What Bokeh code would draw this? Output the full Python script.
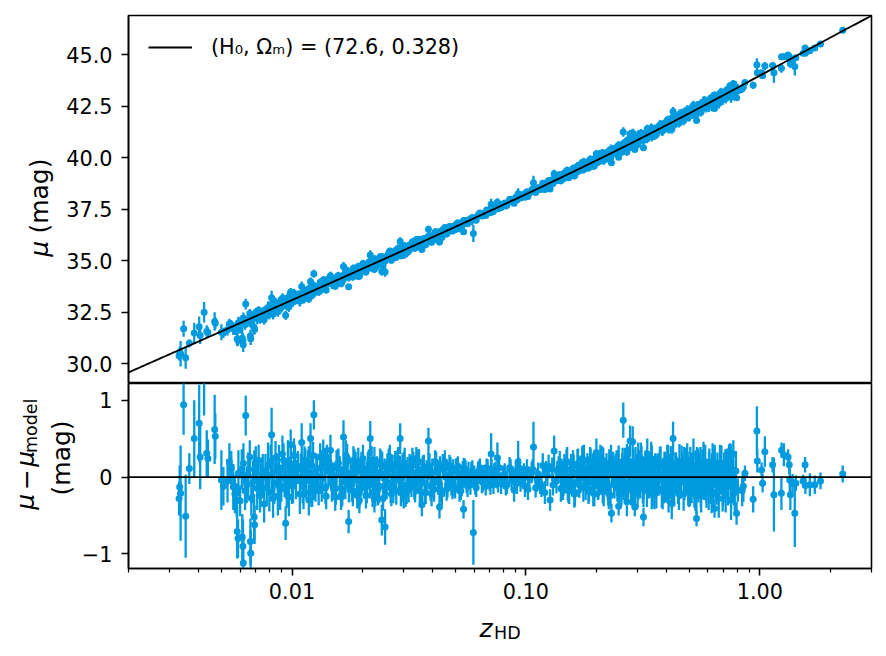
import numpy as np
from math import pi
from bokeh.plotting import figure
from bokeh.layouts import column, row
from bokeh.models import (Range1d, FixedTicker, PrintfTickFormatter, Span, Label,
                          Legend, LegendItem, ColumnDataSource)
from bokeh.embed import file_html
from bokeh.resources import INLINE

# ---------------- cosmology of the model line ----------------
H0 = 72.6
OMEGA_M = 0.328
C_KMS = 299792.458

# ---------------- data ----------------
# lowest redshifts, individual points
z_lo = [0.00331, 0.00334, 0.00329, 0.00344, 0.00351, 0.00364, 0.00382, 0.00401, 0.00405, 0.00421,
        0.00432, 0.00437, 0.00467, 0.00470, 0.00499, 0.00509, 0.00561, 0.00583, 0.00588, 0.00613,
        0.00617, 0.00619, 0.00634, 0.00666, 0.00664, 0.00689, 0.00692, 0.00735, 0.00818, 0.00939,
        0.00987]
res_lo = [-0.13, -0.21, -0.28, 0.94, -0.51, 0.11, 0.50, 0.70, 0.26, 1.30,
          0.31, 0.24, 0.62, 0.53, -0.04, -0.12, -0.13, -0.71, -0.80, -0.78,
          -0.90, -1.12, 0.80, -0.99, -0.84, -0.52, -0.62, -0.08, 0.55, -0.60,
          0.42]
err_lo = [0.28, 0.62, 0.22, 0.39, 0.54, 0.20, 0.50, 0.50, 0.42, 0.50,
          0.30, 0.25, 0.45, 0.30, 0.39, 0.25, 0.30, 0.35, 0.25, 0.30,
          0.35, 0.35, 0.26, 0.30, 0.30, 0.30, 0.25, 0.25, 0.35, 0.22,
          0.20]

# low redshift crowd
z_lo2 = [0.0053, 0.0055, 0.0057, 0.0059, 0.0060, 0.0062, 0.0064, 0.0065, 0.0067, 0.0069,
         0.0071, 0.0072, 0.0074, 0.0076, 0.0077, 0.0079, 0.0080, 0.0082, 0.0084, 0.0085,
         0.0087, 0.0088, 0.0090, 0.0091, 0.0093, 0.0095, 0.0096, 0.0098, 0.0100, 0.0102,
         0.0104, 0.0106, 0.0108, 0.0110, 0.0112,
         0.0054, 0.0058, 0.0061, 0.0063, 0.0066, 0.0068, 0.0070, 0.0073, 0.0075, 0.0078,
         0.0081, 0.0083, 0.0086, 0.0089, 0.0092, 0.0094, 0.0097, 0.0099, 0.0101, 0.0103]
res_lo2 = [-0.05, 0.12, -0.22, 0.05, -0.31, 0.18, -0.10, 0.02, -0.28, 0.10,
           -0.15, 0.22, -0.02, -0.35, 0.08, 0.15, -0.20, 0.03, -0.08, 0.25,
           -0.25, 0.12, -0.12, 0.30, 0.00, -0.18, 0.20, 0.06, -0.10, 0.28,
           -0.05, 0.14, -0.22, 0.10, 0.02,
           0.20, -0.30, 0.10, -0.18, 0.26, -0.06, 0.16, -0.24, 0.04, -0.14,
           0.20, -0.28, 0.08, -0.16, 0.22, -0.04, -0.26, 0.14, -0.12, 0.18]
err_lo2 = [0.28, 0.22, 0.25, 0.30, 0.20, 0.26, 0.24, 0.30, 0.22, 0.25,
           0.28, 0.20, 0.26, 0.24, 0.22, 0.30, 0.25, 0.20, 0.27, 0.22,
           0.25, 0.30, 0.20, 0.24, 0.26, 0.22, 0.28, 0.20, 0.25, 0.22,
           0.24, 0.20, 0.26, 0.22, 0.20,
           0.24, 0.22, 0.26, 0.25, 0.22, 0.28, 0.24, 0.22, 0.26, 0.24,
           0.22, 0.25, 0.23, 0.27, 0.22, 0.24, 0.25, 0.23, 0.22, 0.24]

# 0.01 < z < 0.08
z_mid = [0.0109, 0.0111, 0.0113, 0.0115, 0.0117, 0.0119, 0.0121, 0.0123, 0.0126, 0.0128,
         0.0130, 0.0133, 0.0135, 0.0138, 0.0140, 0.0143, 0.0146, 0.0148, 0.0151, 0.0154,
         0.0157, 0.0160, 0.0163, 0.0166, 0.0169, 0.0172, 0.0175, 0.0178, 0.0182, 0.0185,
         0.0189, 0.0192, 0.0196, 0.0199, 0.0203, 0.0207, 0.0211, 0.0215, 0.0219, 0.0223,
         0.0227, 0.0231, 0.0236, 0.0240, 0.0245, 0.0249, 0.0254, 0.0259, 0.0264, 0.0269,
         0.0274, 0.0279, 0.0284, 0.0290, 0.0295, 0.0301, 0.0306, 0.0312, 0.0318, 0.0324,
         0.0330, 0.0336, 0.0343, 0.0349, 0.0356, 0.0362, 0.0369, 0.0376, 0.0383, 0.0391,
         0.0398, 0.0405, 0.0413, 0.0421, 0.0429, 0.0437, 0.0445, 0.0454, 0.0462, 0.0471,
         0.0480, 0.0489, 0.0498, 0.0508, 0.0517, 0.0527, 0.0537, 0.0547, 0.0558, 0.0568,
         0.0579, 0.0590, 0.0601, 0.0613, 0.0624, 0.0636, 0.0648, 0.0661, 0.0673, 0.0686,
         0.0699, 0.0712, 0.0726, 0.0740, 0.0754, 0.0768, 0.0783, 0.0798]
res_mid = [0.10, -0.12, 0.22, -0.05, 0.15, -0.20, 0.05, 0.28, -0.10, 0.02,
           -0.18, 0.12, -0.02, 0.20, -0.25, 0.08, 0.15, -0.08, 0.00, -0.15,
           0.18, 0.05, -0.22, 0.10, -0.06, 0.25, -0.12, 0.03, -0.18, 0.14,
           -0.04, 0.20, -0.16, 0.08, 0.02, -0.24, 0.12, -0.08, 0.22, -0.02,
           -0.20, 0.06, -0.12, 0.16, -0.28, 0.04, -0.06, 0.18, -0.14, 0.10,
           0.00, -0.18, 0.22, 0.08, -0.10, 0.14, -0.22, 0.05, 0.12, -0.06,
           0.16, -0.14, 0.04, 0.20, -0.08, 0.10, -0.20, 0.02, 0.14, -0.12,
           0.06, -0.16, 0.18, -0.04, 0.10, -0.22, 0.12, 0.00, -0.10, 0.15,
           -0.08, 0.08, -0.14, 0.12, 0.02, -0.18, 0.06, 0.10, -0.06, 0.04,
           -0.10, 0.08, 0.00, -0.14, 0.06, 0.12, -0.06, 0.03, -0.12, 0.09,
           -0.04, 0.10, -0.10, 0.05, -0.02, 0.12, -0.08, 0.02]
err_mid = [0.20, 0.22, 0.18, 0.24, 0.20, 0.19, 0.25, 0.18, 0.22, 0.21,
           0.19, 0.23, 0.20, 0.18, 0.17, 0.22, 0.20, 0.24, 0.19, 0.21,
           0.18, 0.22, 0.17, 0.20, 0.23, 0.18, 0.21, 0.19, 0.20, 0.22,
           0.21, 0.18, 0.20, 0.22, 0.19, 0.17, 0.21, 0.20, 0.18, 0.23,
           0.18, 0.21, 0.22, 0.19, 0.16, 0.20, 0.23, 0.18, 0.20, 0.19,
           0.21, 0.18, 0.17, 0.20, 0.22, 0.19, 0.17, 0.21, 0.18, 0.20,
           0.17, 0.19, 0.21, 0.16, 0.20, 0.18, 0.16, 0.20, 0.17, 0.19,
           0.18, 0.16, 0.15, 0.19, 0.17, 0.15, 0.16, 0.18, 0.17, 0.14,
           0.16, 0.15, 0.14, 0.13, 0.16, 0.12, 0.15, 0.14, 0.15, 0.16,
           0.13, 0.14, 0.15, 0.12, 0.14, 0.12, 0.15, 0.13, 0.12, 0.14,
           0.14, 0.13, 0.12, 0.15, 0.13, 0.12, 0.14, 0.13]

z_mid2 = [0.0112, 0.0118, 0.0124, 0.0132, 0.0139, 0.0147, 0.0155, 0.0162, 0.0171, 0.0180,
          0.0187, 0.0194, 0.0201, 0.0209, 0.0217, 0.0225, 0.0233, 0.0243, 0.0251, 0.0261,
          0.0271, 0.0282, 0.0292, 0.0303, 0.0315, 0.0327, 0.0339, 0.0352, 0.0366, 0.0380,
          0.0394, 0.0409, 0.0425, 0.0441, 0.0458, 0.0476, 0.0494, 0.0512, 0.0532, 0.0552,
          0.0124, 0.0120, 0.0166, 0.01746, 0.0216, 0.0242, 0.0250, 0.0290, 0.0359, 0.0383,
          0.0427, 0.0541, 0.0596, 0.0710, 0.0755, 0.0110, 0.0146]
res_mid2 = [-0.22, 0.18, -0.06, 0.26, -0.14, 0.02, 0.12, -0.26, 0.20, -0.10,
            0.14, -0.20, 0.24, -0.12, 0.06, 0.22, -0.16, 0.14, -0.04, 0.20,
            -0.14, 0.16, -0.20, 0.18, -0.16, 0.22, -0.04, -0.18, 0.12, 0.06,
            -0.12, 0.20, -0.06, 0.14, -0.16, 0.10, -0.12, 0.14, -0.10, 0.08,
            0.81, 0.50, 0.52, -0.58, 0.50, -0.56, -0.65, 0.50, -0.36, 0.47,
            -0.39, -0.42, -0.72, 0.30, 0.25, 0.45, 0.35]
err_mid2 = [0.20, 0.22, 0.24, 0.18, 0.21, 0.20, 0.23, 0.17, 0.20, 0.22,
            0.19, 0.20, 0.18, 0.22, 0.20, 0.17, 0.21, 0.19, 0.22, 0.18,
            0.20, 0.19, 0.18, 0.20, 0.17, 0.16, 0.19, 0.18, 0.17, 0.16,
            0.18, 0.15, 0.17, 0.16, 0.15, 0.16, 0.14, 0.13, 0.15, 0.14,
            0.19, 0.20, 0.22, 0.15, 0.23, 0.20, 0.23, 0.20, 0.15, 0.17,
            0.15, 0.12, 0.42, 0.27, 0.20, 0.25, 0.20]

z_mid3 = [0.0114, 0.0122, 0.0127, 0.0134, 0.0141, 0.0150, 0.0158, 0.0164, 0.0173, 0.0183,
          0.0190, 0.0198, 0.0205, 0.0213, 0.0221, 0.0229, 0.0238, 0.0247, 0.0256, 0.0266,
          0.0276, 0.0287, 0.0297, 0.0309, 0.0321, 0.0333, 0.0346, 0.0359, 0.0373, 0.0387,
          0.0402, 0.0417, 0.0433, 0.0450, 0.0467, 0.0485, 0.0503, 0.0522, 0.0542, 0.0563,
          0.0584, 0.0607, 0.0630, 0.0654, 0.0679, 0.0705, 0.0732, 0.0760, 0.0118, 0.0136,
          0.0153, 0.0170, 0.0194, 0.0225, 0.0262, 0.0300, 0.0340, 0.0395, 0.0450, 0.0520]
res_mid3 = [0.16, -0.20, 0.08, -0.12, 0.24, -0.06, 0.18, -0.16, 0.04, 0.22,
            -0.24, 0.12, -0.08, 0.18, -0.20, 0.02, 0.20, -0.12, 0.10, -0.22,
            0.16, -0.04, 0.12, -0.18, 0.08, -0.10, 0.20, 0.04, -0.20, 0.14,
            -0.08, 0.06, -0.18, 0.12, 0.02, -0.14, 0.10, -0.06, 0.12, -0.12,
            0.06, -0.10, 0.08, -0.04, 0.12, -0.10, 0.04, -0.08, -0.30, 0.30,
            -0.26, 0.28, -0.30, -0.28, 0.26, -0.24, 0.24, -0.22, 0.20, -0.18]
err_mid3 = [0.21, 0.19, 0.23, 0.20, 0.18, 0.22, 0.19, 0.21, 0.24, 0.18,
            0.17, 0.21, 0.20, 0.18, 0.19, 0.23, 0.17, 0.20, 0.21, 0.16,
            0.18, 0.20, 0.19, 0.17, 0.20, 0.19, 0.16, 0.18, 0.15, 0.17,
            0.18, 0.17, 0.15, 0.16, 0.17, 0.15, 0.14, 0.15, 0.13, 0.14,
            0.14, 0.13, 0.14, 0.15, 0.12, 0.13, 0.14, 0.12, 0.20, 0.19,
            0.18, 0.20, 0.17, 0.18, 0.16, 0.17, 0.15, 0.16, 0.15, 0.14]

# 0.08 < z < 0.14
z_gap = [0.0812, 0.0830, 0.0851, 0.0868, 0.0890, 0.0905, 0.0926, 0.0948, 0.0967, 0.0990,
         0.1010, 0.1035, 0.1058, 0.1077, 0.1100, 0.1128, 0.1150, 0.1180, 0.1205, 0.1235,
         0.1268, 0.1295, 0.1320, 0.1350, 0.1380, 0.1410,
         0.0820, 0.0860, 0.0880, 0.0915, 0.0937, 0.0980, 0.1020, 0.1068, 0.1115, 0.1165,
         0.1220, 0.1250, 0.1305, 0.1365, 0.1395]
res_gap = [0.05, -0.10, 0.12, -0.04, -0.17, 0.08, 0.20, -0.06, 0.02, -0.12,
           0.10, -0.02, 0.06, 0.39, -0.14, 0.04, -0.08, 0.15, -0.20, 0.02,
           -0.30, 0.10, 0.34, -0.05, 0.12, -0.15,
           -0.12, 0.10, 0.02, -0.08, 0.12, 0.06, -0.16, 0.10, -0.04, -0.12,
           0.08, 0.14, -0.10, 0.06, 0.18]
err_gap = [0.13, 0.12, 0.14, 0.13, 0.15, 0.12, 0.27, 0.13, 0.12, 0.14,
           0.13, 0.12, 0.14, 0.33, 0.13, 0.15, 0.14, 0.16, 0.15, 0.14,
           0.14, 0.15, 0.20, 0.16, 0.15, 0.17,
           0.12, 0.13, 0.12, 0.14, 0.13, 0.12, 0.14, 0.13, 0.15, 0.14,
           0.13, 0.15, 0.14, 0.15, 0.16]

# 0.14 < z < 0.8
z_hi = [0.142, 0.144, 0.146, 0.148, 0.150, 0.152, 0.154, 0.156, 0.158, 0.160,
        0.162, 0.165, 0.167, 0.169, 0.171, 0.174, 0.176, 0.178, 0.181, 0.183,
        0.186, 0.188, 0.191, 0.193, 0.196, 0.199, 0.201, 0.204, 0.207, 0.209,
        0.212, 0.215, 0.218, 0.221, 0.224, 0.227, 0.230, 0.233, 0.236, 0.239,
        0.242, 0.246, 0.249, 0.252, 0.256, 0.259, 0.263, 0.266, 0.270, 0.273,
        0.277, 0.281, 0.284, 0.288, 0.292, 0.296, 0.300, 0.304, 0.308, 0.312,
        0.316, 0.320, 0.325, 0.329, 0.334, 0.338, 0.343, 0.347, 0.352, 0.357,
        0.361, 0.366, 0.371, 0.376, 0.381, 0.386, 0.391, 0.397, 0.402, 0.407,
        0.413, 0.418, 0.424, 0.430, 0.435, 0.441, 0.447, 0.453, 0.459, 0.465,
        0.472, 0.478, 0.484, 0.491, 0.497, 0.504, 0.511, 0.518, 0.525, 0.532,
        0.539, 0.546, 0.553, 0.561, 0.568, 0.576, 0.584, 0.591, 0.599, 0.608,
        0.616, 0.624, 0.632, 0.641, 0.650, 0.658, 0.667, 0.676, 0.685, 0.695,
        0.704, 0.714, 0.723, 0.733, 0.743, 0.753, 0.763, 0.774]
res_hi = [0.08, -0.12, 0.15, -0.04, 0.20, -0.18, 0.02, 0.10, -0.08, 0.14,
          -0.20, 0.05, 0.18, -0.10, 0.00, 0.24, -0.14, 0.06, -0.02, 0.12,
          -0.16, 0.20, -0.06, 0.10, -0.22, 0.04, 0.16, -0.12, 0.08, -0.04,
          0.22, -0.18, 0.02, 0.12, -0.10, 0.18, -0.24, 0.06, 0.14, -0.06,
          0.10, -0.14, 0.20, -0.02, -0.20, 0.16, 0.04, -0.12, 0.22, -0.08,
          0.12, -0.16, 0.02, 0.18, -0.10, 0.08, -0.22, 0.14, -0.04, 0.20,
          -0.12, 0.06, 0.16, -0.18, 0.10, -0.06, 0.24, -0.14, 0.02, 0.12,
          -0.20, 0.08, -0.04, 0.18, -0.16, 0.04, 0.14, -0.10, 0.22, -0.24,
          0.06, -0.08, 0.16, -0.18, 0.10, 0.00, -0.14, 0.20, -0.06, 0.12,
          -0.22, 0.14, -0.02, 0.08, -0.16, 0.18, -0.10, 0.04, -0.20, 0.10,
          0.16, -0.12, 0.06, -0.24, 0.12, -0.04, 0.20, -0.16, 0.02, 0.14,
          -0.10, 0.08, -0.20, 0.16, -0.06, 0.10, -0.28, 0.04, 0.18, -0.14,
          0.06, -0.22, 0.12, -0.08, 0.20, -0.30, 0.02, -0.12]
err_hi = [0.16, 0.18, 0.15, 0.17, 0.19, 0.16, 0.18, 0.20, 0.17, 0.15,
          0.18, 0.16, 0.19, 0.17, 0.21, 0.16, 0.18, 0.20, 0.17, 0.19,
          0.17, 0.19, 0.18, 0.21, 0.16, 0.20, 0.18, 0.17, 0.22, 0.19,
          0.18, 0.20, 0.17, 0.19, 0.21, 0.18, 0.16, 0.20, 0.19, 0.22,
          0.20, 0.18, 0.21, 0.19, 0.17, 0.22, 0.20, 0.18, 0.21, 0.19,
          0.19, 0.21, 0.23, 0.18, 0.20, 0.22, 0.19, 0.21, 0.24, 0.20,
          0.22, 0.20, 0.19, 0.21, 0.23, 0.20, 0.22, 0.24, 0.21, 0.19,
          0.21, 0.23, 0.20, 0.22, 0.24, 0.21, 0.19, 0.23, 0.20, 0.22,
          0.24, 0.21, 0.23, 0.20, 0.22, 0.25, 0.21, 0.23, 0.22, 0.20,
          0.22, 0.24, 0.21, 0.25, 0.23, 0.21, 0.24, 0.22, 0.20, 0.25,
          0.23, 0.21, 0.25, 0.22, 0.24, 0.26, 0.22, 0.24, 0.21, 0.23,
          0.25, 0.23, 0.22, 0.26, 0.24, 0.22, 0.25, 0.27, 0.23, 0.24,
          0.26, 0.24, 0.25, 0.27, 0.23, 0.26, 0.28, 0.25]

z_hi2 = [0.151, 0.159, 0.168, 0.177, 0.185, 0.195, 0.205, 0.214, 0.226, 0.237,
         0.248, 0.261, 0.275, 0.290, 0.302, 0.318, 0.331, 0.345, 0.359, 0.374,
         0.389, 0.405, 0.421, 0.438, 0.456, 0.475, 0.494, 0.515, 0.535, 0.557,
         0.580, 0.604, 0.628, 0.654, 0.680, 0.709, 0.738,
         0.2606, 0.2787, 0.286, 0.4255, 0.292, 0.318, 0.536, 0.640, 0.795, 0.232,
         0.249, 0.745, 0.770, 0.805]
res_hi2 = [-0.14, 0.16, -0.08, 0.22, -0.18, 0.10, -0.04, 0.20, -0.22, 0.08,
           0.14, -0.10, 0.18, -0.16, 0.24, -0.06, 0.12, -0.20, 0.06, 0.16,
           -0.12, 0.22, -0.18, 0.10, -0.04, 0.18, -0.14, 0.08, -0.24, 0.14,
           0.04, -0.18, 0.20, -0.10, 0.12, -0.06, 0.16,
           0.74, 0.47, 0.46, 0.50, -0.39, -0.52, -0.54, -0.41, -0.47, -0.47,
           -0.38, 0.29, 0.30, -0.17]
err_hi2 = [0.17, 0.19, 0.18, 0.20, 0.17, 0.19, 0.21, 0.18, 0.20, 0.19,
           0.21, 0.20, 0.22, 0.19, 0.21, 0.23, 0.20, 0.22, 0.21, 0.23,
           0.22, 0.20, 0.23, 0.22, 0.24, 0.21, 0.23, 0.22, 0.24, 0.25,
           0.23, 0.25, 0.24, 0.26, 0.25, 0.27, 0.26,
           0.23, 0.20, 0.20, 0.22, 0.12, 0.12, 0.10, 0.12, 0.15, 0.12,
           0.12, 0.15, 0.18, 0.15]

z_hi3 = [0.145, 0.149, 0.153, 0.157, 0.161, 0.166, 0.170, 0.175, 0.180, 0.184,
         0.189, 0.194, 0.198, 0.203, 0.208, 0.213, 0.219, 0.225, 0.231, 0.238,
         0.244, 0.251, 0.258, 0.265, 0.272, 0.279, 0.287, 0.294, 0.302, 0.310,
         0.318, 0.327, 0.336, 0.345, 0.354, 0.364, 0.374, 0.384, 0.394, 0.405,
         0.416, 0.427, 0.439, 0.451, 0.463, 0.476, 0.489, 0.502, 0.516, 0.530,
         0.544, 0.559, 0.574, 0.590, 0.606, 0.622, 0.639, 0.657, 0.675, 0.693,
         0.712, 0.731, 0.751, 0.781, 0.790, 0.200, 0.270, 0.330, 0.420, 0.520]
res_hi3 = [-0.06, 0.20, -0.16, 0.10, -0.22, 0.16, -0.02, 0.22, -0.12, 0.06,
           0.18, -0.20, 0.12, -0.08, 0.24, -0.14, 0.04, -0.18, 0.20, -0.06,
           0.14, -0.22, 0.08, 0.18, -0.12, 0.02, -0.20, 0.16, -0.08, 0.24,
           -0.16, 0.10, -0.04, 0.20, -0.22, 0.06, 0.14, -0.18, 0.12, -0.10,
           0.18, -0.14, 0.04, -0.22, 0.16, -0.06, 0.22, -0.12, 0.08, -0.20,
           0.12, -0.16, 0.20, -0.08, 0.06, -0.24, 0.14, -0.04, 0.18, -0.18,
           0.10, -0.12, 0.16, -0.20, 0.08, 0.32, -0.32, 0.30, -0.34, 0.28]
err_hi3 = [0.18, 0.16, 0.19, 0.17, 0.18, 0.20, 0.17, 0.19, 0.18, 0.21,
           0.19, 0.18, 0.20, 0.22, 0.18, 0.20, 0.21, 0.19, 0.22, 0.20,
           0.21, 0.19, 0.23, 0.20, 0.22, 0.21, 0.20, 0.23, 0.22, 0.21,
           0.23, 0.22, 0.24, 0.21, 0.20, 0.23, 0.22, 0.24, 0.21, 0.25,
           0.22, 0.24, 0.23, 0.21, 0.25, 0.24, 0.22, 0.26, 0.23, 0.24,
           0.25, 0.23, 0.26, 0.24, 0.27, 0.23, 0.25, 0.26, 0.24, 0.27,
           0.26, 0.25, 0.27, 0.24, 0.26, 0.18, 0.19, 0.20, 0.21, 0.22]

# z > 0.8
z_top = [0.840, 0.850, 0.863, 0.936, 0.971, 0.975, 1.017, 1.027, 1.050, 1.133,
         1.148, 1.236, 1.238, 1.266, 1.320, 1.335, 1.342, 1.350, 1.380, 1.410,
         1.425, 1.530, 1.560, 1.565, 1.635, 1.717, 1.816, 2.260]
res_top = [-0.18, -0.12, 0.05, -0.29, 0.60, 0.21, 0.09, -0.08, 0.33, 0.16,
           -0.23, -0.21, 0.35, 0.29, 0.26, 0.16, -0.04, -0.23, -0.08, -0.47,
           -0.08, -0.05, 0.16, -0.11, -0.10, -0.10, -0.05, 0.04]
err_top = [0.20, 0.20, 0.10, 0.17, 0.32, 0.15, 0.10, 0.12, 0.20, 0.10,
           0.48, 0.22, 0.10, 0.15, 0.10, 0.12, 0.15, 0.20, 0.12, 0.44,
           0.10, 0.08, 0.10, 0.11, 0.15, 0.12, 0.11, 0.11]

groups = [(z_lo, res_lo, err_lo), (z_lo2, res_lo2, err_lo2), (z_mid, res_mid, err_mid),
          (z_mid2, res_mid2, err_mid2), (z_mid3, res_mid3, err_mid3), (z_gap, res_gap, err_gap),
          (z_hi, res_hi, err_hi), (z_hi2, res_hi2, err_hi2), (z_hi3, res_hi3, err_hi3),
          (z_top, res_top, err_top)]
for g in groups:
    if not (len(g[0]) == len(g[1]) == len(g[2])):
        raise ValueError("length mismatch %d %d %d" % (len(g[0]), len(g[1]), len(g[2])))

z_hd = np.array(sum([list(g[0]) for g in groups], []))
resid = np.array(sum([list(g[1]) for g in groups], []))
mu_err = np.array(sum([list(g[2]) for g in groups], []))

XMIN, XMAX = 0.002, 3.0


def mu_model(z):
    z = np.asarray(z, dtype=float)
    zg = np.linspace(0.0, XMAX * 1.05, 40001)
    inv_e = 1.0 / np.sqrt(OMEGA_M * (1 + zg) ** 3 + (1 - OMEGA_M))
    dc = np.concatenate([[0.0], np.cumsum(0.5 * (inv_e[1:] + inv_e[:-1]) * np.diff(zg))])
    d_l = (1 + z) * np.interp(z, zg, dc) * C_KMS / H0
    return 5 * np.log10(d_l) + 25


mu = mu_model(z_hd) + resid
src = ColumnDataSource(dict(z=z_hd, mu=mu, mu_lo=mu - mu_err, mu_hi=mu + mu_err,
                            r=resid, r_lo=resid - mu_err, r_hi=resid + mu_err))
z_line = np.geomspace(XMIN, XMAX, 400)
line_src = ColumnDataSource(dict(z=z_line, mu=mu_model(z_line)))

BLUE = "#009ade"
FONT = "DejaVu Sans"
TICK_PX = "20.8px"
LABEL_PX = "25px"
SUB_PX = "17.5px"

x_range = Range1d(XMIN, XMAX)


def style(p):
    p.grid.visible = False
    p.outline_line_color = "black"
    p.outline_line_width = 1.6
    p.background_fill_color = "white"
    p.border_fill_color = "white"
    for ax in p.axis:
        ax.axis_line_color = "black"
        ax.axis_line_width = 1.6
        ax.major_tick_line_color = "black"
        ax.major_tick_line_width = 1.6
        ax.major_tick_out = 7
        ax.major_tick_in = 0
        ax.minor_tick_line_color = "black"
        ax.minor_tick_line_width = 1.2
        ax.minor_tick_out = 4
        ax.minor_tick_in = 0
        ax.major_label_text_font = FONT
        ax.major_label_text_font_size = TICK_PX
        ax.major_label_text_color = "black"


def blank(w, h):
    f = figure(width=w, height=h, x_range=Range1d(0, w), y_range=Range1d(0, h),
               x_axis_location=None, y_axis_location=None, min_border=0,
               output_backend="svg", toolbar_location=None)
    f.grid.visible = False
    f.outline_line_color = None
    f.background_fill_color = "white"
    f.border_fill_color = "white"
    return f


def txt(f, x, y, text, size=LABEL_PX, style_="normal", angle=0.0, align="left"):
    f.add_layout(Label(x=x, y=y, text=text, angle=angle, text_font=FONT, text_font_size=size,
                       text_font_style=style_, text_align=align, text_baseline="alphabetic",
                       text_color="black"))


# ---------------- top panel ----------------
p1 = figure(width=818, height=383, x_axis_type="log", x_range=x_range,
            y_range=Range1d(29.05, 46.9), x_axis_location=None,
            output_backend="svg", toolbar_location=None,
            min_border_left=68, min_border_right=7, min_border_top=15, min_border_bottom=0)
p1.segment(x0="z", y0="mu_lo", x1="z", y1="mu_hi", source=src, line_color=BLUE, line_width=2.3)
p1.scatter("z", "mu", source=src, size=7, fill_color=BLUE, line_color=None)
model_r = p1.line("z", "mu", source=line_src, line_color="black", line_width=1.8)
style(p1)
p1.yaxis.ticker = FixedTicker(ticks=[30, 32.5, 35, 37.5, 40, 42.5, 45])
p1.yaxis.formatter = PrintfTickFormatter(format="%.1f")
p1.yaxis.major_label_standoff = 9
p1.yaxis.minor_tick_line_color = None

legend = Legend(items=[LegendItem(label="(H₀, Ωₘ) = (%s, %s)" % (H0, OMEGA_M), renderers=[model_r])],
                location="top_left", border_line_color=None, background_fill_alpha=0,
                label_text_font=FONT, label_text_font_size=TICK_PX, label_text_color="black",
                glyph_width=44, label_standoff=19, margin=20, padding=10)
p1.add_layout(legend)

# y label of top panel: "μ (mag)"
fy1 = blank(60, 383)
txt(fy1, 38.5, 132, "μ", style_="italic", angle=pi / 2)
txt(fy1, 38.5, 156, "(mag)", angle=pi / 2)

# ---------------- residual panel ----------------
p2 = figure(width=800, height=230, x_axis_type="log", x_range=x_range,
            y_range=Range1d(-1.19, 1.217), output_backend="svg", toolbar_location=None,
            min_border_left=50, min_border_right=7, min_border_top=0, min_border_bottom=45)
p2.segment(x0="z", y0="r_lo", x1="z", y1="r_hi", source=src, line_color=BLUE, line_width=2.3)
p2.scatter("z", "r", source=src, size=7, fill_color=BLUE, line_color=None)
p2.add_layout(Span(location=0, dimension="width", line_color="black", line_width=1.8))
style(p2)
minor = [0.002, 0.003, 0.004, 0.005, 0.006, 0.007, 0.008, 0.009,
         0.02, 0.03, 0.04, 0.05, 0.06, 0.07, 0.08, 0.09,
         0.2, 0.3, 0.4, 0.5, 0.6, 0.7, 0.8, 0.9, 2.0, 3.0]
p2.xaxis.ticker = FixedTicker(ticks=[0.01, 0.1, 1.0], minor_ticks=minor)
p2.xaxis.formatter = PrintfTickFormatter(format="%.2f")
p2.xaxis.major_label_standoff = 7
p2.yaxis.ticker = FixedTicker(ticks=[-1, 0, 1])
p2.yaxis.major_label_overrides = {-1: "−1", 0: "0", 1: "1"}
p2.yaxis.major_label_standoff = 9
p2.yaxis.minor_tick_line_color = None

# y label of residual panel: "μ − μ_model" / "(mag)"
fy2 = blank(78, 230)
y0 = 73.0
txt(fy2, 25.0, y0, "μ", style_="italic", angle=pi / 2)
txt(fy2, 25.0, y0 + 24.5, "−", angle=pi / 2)
txt(fy2, 25.0, y0 + 53.5, "μ", style_="italic", angle=pi / 2)
txt(fy2, 30.5, y0 + 70.5, "model", size=SUB_PX, angle=pi / 2)
txt(fy2, 61.0, 137.5, "(mag)", angle=pi / 2, align="center")

# x label: "z_HD"
fx = blank(878, 37)
txt(fx, 479, 22.5, "z", style_="italic")
txt(fx, 493.5, 17.7, "HD", size=SUB_PX)

layout = column(row(fy1, p1, spacing=0), row(fy2, p2, spacing=0), fx, spacing=0)
open("out.html", "w").write(file_html(layout, INLINE))
